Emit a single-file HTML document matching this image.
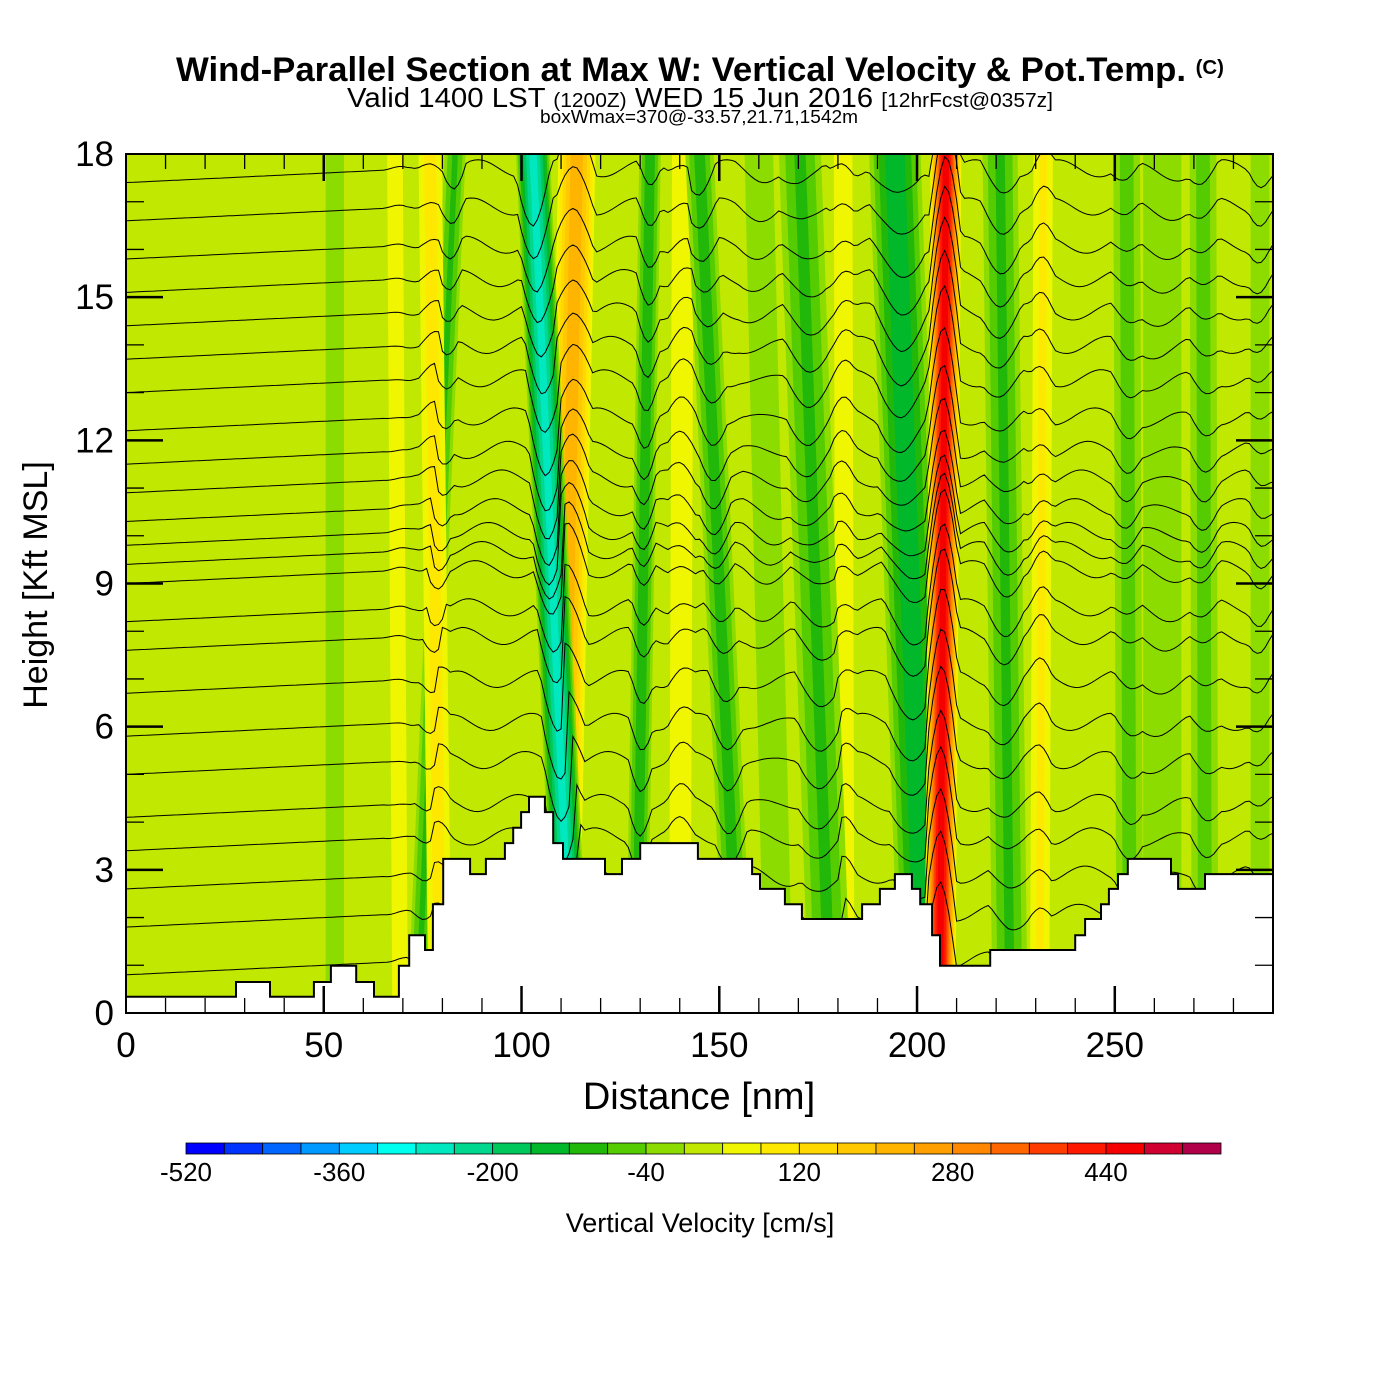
<!DOCTYPE html>
<html><head><meta charset="utf-8">
<style>
html,body{margin:0;padding:0;background:#fff;}
svg{display:block;font-family:"Liberation Sans",Arial,sans-serif;}
</style></head>
<body>
<svg id="chart" width="1400" height="1400" viewBox="0 0 1400 1400">
  <text x="700" y="81" text-anchor="middle" font-size="34" font-weight="bold" textLength="1048" lengthAdjust="spacingAndGlyphs">Wind-Parallel Section at Max W: Vertical Velocity &amp; Pot.Temp. <tspan font-size="20" dy="-7">(C)</tspan></text>
  <text x="700" y="107" text-anchor="middle" font-size="28" textLength="706" lengthAdjust="spacingAndGlyphs">Valid 1400 LST <tspan font-size="20">(1200Z)</tspan> WED 15 Jun 2016 <tspan font-size="20">[12hrFcst@0357z]</tspan></text>
  <text x="699" y="123" text-anchor="middle" font-size="18" textLength="318" lengthAdjust="spacingAndGlyphs">boxWmax=370@-33.57,21.71,1542m</text>
  <defs><clipPath id="plotclip"><rect x="126" y="154" width="1147" height="859"/></clipPath></defs>
  <g id="field" clip-path="url(#plotclip)"></g>
  <g id="contours" clip-path="url(#plotclip)"></g>
  <g id="terrain" clip-path="url(#plotclip)"></g>
  <g id="axes"></g>
  <text x="699" y="1109" text-anchor="middle" font-size="38">Distance [nm]</text>
  <text transform="translate(47,585) rotate(-90)" text-anchor="middle" font-size="34">Height [Kft MSL]</text>
  <g id="colorbar"></g>
  <text x="700" y="1232" text-anchor="middle" font-size="27">Vertical Velocity [cm/s]</text>
</svg>
<script>
// ---- data ----
const cbColors = ["#0000ff","#0033ff","#0066ff","#0099ff","#00ccff","#00ffee","#00e8c0","#00d890","#00c85a","#00b82a","#22b80a","#55cc00","#8cdc00","#c0e800","#f0f500","#ffe800","#ffd800","#ffc800","#ffb400","#ffa000","#ff8800","#ff6600","#ff3c00","#ff1800","#f50000","#d00030","#b0004a"];
const cbLabels = [-520,-360,-200,-40,120,280,440];
const xTicks = [0,50,100,150,200,250];
const yTicks = [0,3,6,9,12,15,18];
// streaks: distance at top, distance at bottom, peak w (cm/s), half width (nm)
const streakTop = [52.8, 160, 262, 68, 83.2, 76.9, 132.5, 140.8, 145, 170.4, 181.3, 221, 231.9, 253, 272.3, 286.7, 194.4, 114, 102.9, 207.3];
const streakBot = [52.8, 165, 262, 69.3, 73.8, 79.4, 129, 140, 155, 178, 181.8, 223.5, 231, 253.8, 272.8, 286.7, 202, 109.7, 112.8, 205.8];
const streakW   = [-20, -15, -15, 60, -90, 100, -110, 80, -100, -90, 80, -90, 90, -60, -60, -40, -150, 230, -260, 470];
const streakHW  = [3.5, 6, 8, 3, 3, 3.5, 3, 3.5, 4, 6, 3, 5, 3, 4, 4, 3, 7, 5, 4.5, 4];
// terrain step starts (nm) and heights (kft)
const terrDist = [0,27.8,36.4,47.5,51.8,58.2,62.7,69,71.6,75.6,77.6,80.2,87,91,95.8,97.9,99.9,101.9,105.9,108,110.5,121.1,125.4,130,144.6,158.3,160.3,166.6,170.9,186.1,190.6,194.4,198.7,200.8,203.8,205.8,218.5,240,242.5,246.5,248.5,250.8,253.3,264.2,266,272.8];
const terrH    = [0.34,0.65,0.34,0.65,0.99,0.65,0.34,0.99,1.63,1.32,2.28,3.23,2.91,3.23,3.56,3.88,4.21,4.53,4.21,3.56,3.23,2.91,3.23,3.56,3.23,2.91,2.6,2.28,1.97,2.28,2.6,2.91,2.6,2.28,1.63,0.99,1.32,1.63,1.97,2.28,2.6,2.91,3.23,2.91,2.6,2.91];
// isentrope heights at left edge (kft)
const thetaH0 = [17.4,16.6,15.8,15.1,14.4,13.7,13.0,12.2,11.5,10.9,10.3,9.8,9.4,9.0,8.2,7.6,6.7,5.8,5.0,4.1,3.4,2.6,1.8,0.8];

// ---- scales ----
const X0=126, X1=1273, Y0=1013, Y1=154;
const xs = d => X0 + d*(X1-X0)/290;
const ys = h => Y0 - h*(Y0-Y1)/18;
const NS="http://www.w3.org/2000/svg";
function mk(tag, attrs, parent){const e=document.createElementNS(NS,tag);for(const k in attrs)e.setAttribute(k,attrs[k]);parent.appendChild(e);return e;}
const colorFor = v => cbColors[Math.max(0,Math.min(26,Math.floor((v+520)/40)))];

// ---- field ----
const field=document.getElementById('field');
const bg=mk('rect',{x:X0,y:Y1,width:X1-X0,height:Y0-Y1,fill:"#c0e800"},field);


const order=streakW.map((w,i)=>i).sort((a,b)=>Math.abs(streakW[a])-Math.abs(streakW[b]));
const BASE=20;
for(const i of order){
  const w=streakW[i];
  const g=mk('g',{},field);
  
  
  const ts=[];
  if(w>BASE){for(let t=40;t<w;t+=40)ts.push(t);}else{for(let t=0;t>w;t-=40)ts.push(t);}
  for(const t of ts){
    const f=Math.pow(Math.abs(w-t)/Math.abs(w-BASE),0.6);
    const hw=streakHW[i]*f;
    const col = w>BASE ? colorFor(t+1) : colorFor(t-1);
    const pts=[[streakTop[i]-hw,18],[streakTop[i]+hw,18],[streakBot[i]+hw,0],[streakBot[i]-hw,0]].map(p=>xs(p[0]).toFixed(1)+","+ys(p[1]).toFixed(1)).join(" ");
    const p=mk('polygon',{points:pts,fill:col},g);
    
    
  }
}
function wAt(d,z){
  let best=0;
  for(let i=0;i<streakW.length;i++){
    const c=streakBot[i]+(streakTop[i]-streakBot[i])*z/18;
    const r=Math.abs(d-c)/streakHW[i];
    if(r<1){const v=(streakW[i]-BASE)*(1-Math.pow(r,1/0.6));if(Math.abs(v)>Math.abs(best))best=v;}
  }
  return best;
}
// ---- contours ----
const cg=document.getElementById('contours');
thetaH0.forEach((h0,k)=>{
  const pts=[];
  for(let d=0;d<=290;d+=1){
    let h=h0+0.004*Math.min(d,75);
    const ramp=Math.max(0,Math.min(1,(d-65)/20));
    h+= ramp*(0.004*wAt(d,h) + 0.18*Math.sin(d*0.3+k*0.5));
    pts.push(xs(d).toFixed(1)+","+ys(h).toFixed(1));
  }
  const pl=mk('polyline',{points:pts.join(" "),fill:"none",stroke:"#000","stroke-width":1},cg);
  
  
});
// ---- terrain ----
const tg=document.getElementById('terrain');
let tp=[[xs(0),ys(0)-1]];
for(let i=0;i<terrDist.length;i++){
  const xa=xs(terrDist[i]), xb=xs(i+1<terrDist.length?terrDist[i+1]:290);
  tp.push([xa,ys(terrH[i])]);tp.push([xb,ys(terrH[i])]);
}
const tline=tp.slice(1).map(p=>p[0].toFixed(1)+","+p[1].toFixed(1)).join(" ");
const tpoly=mk('polygon',{points:xs(0)+","+(Y0+2)+" "+tline+" "+xs(290)+","+(Y0+2),fill:"#fff"},tg);


const tl=mk('polyline',{points:tline,fill:"none",stroke:"#000","stroke-width":2},tg);


// ---- axes ----
const ax=document.getElementById('axes');
const frame=mk('rect',{x:X0,y:Y1,width:X1-X0,height:Y0-Y1,fill:"none",stroke:"#000","stroke-width":2},ax);


for(let d=10;d<290;d+=10){
  const maj=d%50===0, L=maj?27:15, sw=maj?2.5:1.3;
  mk('line',{x1:xs(d),x2:xs(d),y1:Y0,y2:Y0-L,stroke:"#000","stroke-width":sw},ax);
  mk('line',{x1:xs(d),x2:xs(d),y1:Y1,y2:Y1+L,stroke:"#000","stroke-width":sw},ax);
}
for(let h=1;h<18;h++){
  const maj=h%3===0, L=maj?37:18, sw=maj?2.5:1.3;
  mk('line',{x1:X0,x2:X0+L,y1:ys(h),y2:ys(h),stroke:"#000","stroke-width":sw},ax);
  mk('line',{x1:X1,x2:X1-L,y1:ys(h),y2:ys(h),stroke:"#000","stroke-width":sw},ax);
}
xTicks.forEach(v=>{
  const t=mk('text',{x:xs(v),y:1057,"text-anchor":"middle","font-size":35},ax);t.textContent=v;
  
  
});
yTicks.forEach(v=>{
  const t=mk('text',{x:114,y:ys(v)+12,"text-anchor":"end","font-size":35},ax);t.textContent=v;
  
  
});
// ---- colorbar ----
const cb=document.getElementById('colorbar');
const CB0=186, CBW=(1221-186)/27;
cbColors.forEach((c,i)=>{
  const r=mk('rect',{x:CB0+i*CBW,y:1143,width:CBW,height:11,fill:c,stroke:"#000","stroke-width":0.8},cb);
  
  
});
cbLabels.forEach(v=>{
  const t=mk('text',{x:CB0+(v+520)/40*CBW,y:1181,"text-anchor":"middle","font-size":26},cb);t.textContent=v;
  
  
});
</script>
</body></html>
